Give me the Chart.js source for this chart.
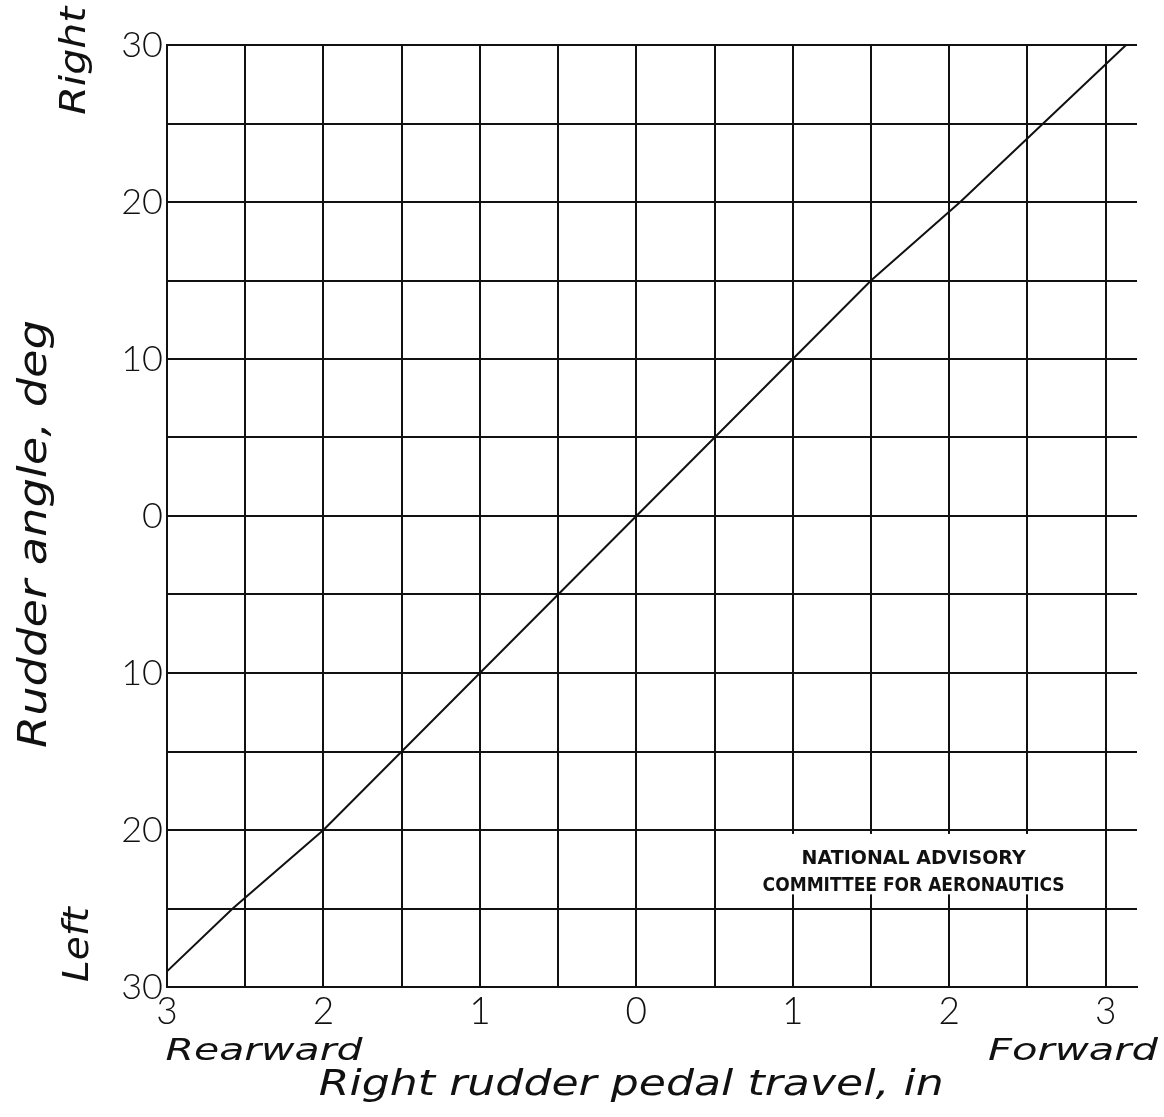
<!DOCTYPE html>
<html>
<head>
<meta charset="utf-8">
<script src="https://cdn.jsdelivr.net/npm/chart.js@4/dist/chart.umd.min.js"></script>
<style>
  html, body { margin: 0; padding: 0; background: #fff; }
  #wrap { width: 1164px; height: 1117px; }
</style>
</head>
<body>
<div id="wrap"><canvas id="c" width="1164" height="1117"></canvas></div>
<script>
// ---- data ----
const pedalTravel = [-3, -2.58, -2, -1.5, -1, -0.5, 0, 0.5, 1, 1.5, 2.07, 2.6, 3.13];
const rudderAngle = [-29, -25, -20, -15, -10, -5, 0, 5, 10, 15, 20, 25, 30];
const xGridValues = [-3, -2.5, -2, -1.5, -1, -0.5, 0, 0.5, 1, 1.5, 2, 2.5, 3];
const xTickLabels = ['3', '2', '1', '0', '1', '2', '3'];      // at -3..3 integers
const yTickLabels = ['30', '20', '10', '0', '10', '20', '30']; // at -30..30 by 10
const xTitle = 'Right rudder pedal travel, in';
const yTitle = 'Rudder angle, deg';
const xEndLabels = ['Rearward', 'Forward'];
const yEndLabels = ['Left', 'Right'];
const noteLines = ['NATIONAL ADVISORY', 'COMMITTEE FOR AERONAUTICS'];

const INK = '#111';
const HAND = "'Lato', 'DejaVu Sans', sans-serif";
const SCRIPT = "'DejaVu Sans', sans-serif";

const points = pedalTravel.map((x, i) => ({ x, y: rudderAngle[i] }));

// draw text stretched horizontally to a target width, centred on (cx, y)
function fitText(ctx, text, cx, y, target) {
  ctx.letterSpacing = '0px';
  const w = ctx.measureText(text).width;
  const sx = target / w;
  ctx.save();
  ctx.translate(cx, y);
  ctx.scale(sx, 1);
  ctx.textAlign = 'center';
  ctx.fillText(text, 0, 0);
  ctx.restore();
}

const extras = {
  id: 'extras',
  afterDraw(chart) {
    const ctx = chart.ctx;
    const xs = chart.scales.x, ys = chart.scales.y;
    const area = chart.chartArea;
    ctx.save();
    // NACA note box (covers grid)
    const bx0 = xs.getPixelForValue(0.72), bx1 = xs.getPixelForValue(2.85);
    const by0 = ys.getPixelForValue(-20.25), by1 = ys.getPixelForValue(-24.1);
    ctx.fillStyle = '#fff';
    ctx.fillRect(bx0, by0, bx1 - bx0, by1 - by0);
    ctx.fillStyle = INK;
    ctx.textAlign = 'center';
    ctx.textBaseline = 'alphabetic';
    ctx.font = "bold 19px 'DejaVu Sans', sans-serif";
    const cx = (bx0 + bx1) / 2 - 2;
    ctx.fillText(noteLines[0], cx, by0 + 30, 250);
    ctx.fillText(noteLines[1], cx, by0 + 57, 302);

    // axis title: x
    ctx.font = "italic 200 36px " + SCRIPT;
    fitText(ctx, xTitle, xs.getPixelForValue(0) - 5, area.bottom + 108, 625);
    // end labels on x
    ctx.font = "italic 200 31px " + SCRIPT;
    fitText(ctx, xEndLabels[0], area.left + 97, area.bottom + 73, 197);
    fitText(ctx, xEndLabels[1], area.right - 64, area.bottom + 73, 170);

    // y title (rotated)
    ctx.font = "italic 200 39px " + SCRIPT;
    ctx.save();
    ctx.translate(46, (area.top + area.bottom) / 2 + 18);
    ctx.rotate(-Math.PI / 2);
    fitText(ctx, yTitle, 0, 0, 428);
    ctx.restore();

    ctx.font = "italic 200 36px " + SCRIPT;
    ctx.save();
    ctx.translate(88, ys.getPixelForValue(-27.3));
    ctx.rotate(-Math.PI / 2);
    fitText(ctx, yEndLabels[0], 0, 0, 75);
    ctx.restore();
    ctx.save();
    ctx.translate(85, ys.getPixelForValue(29.0));
    ctx.rotate(-Math.PI / 2);
    fitText(ctx, yEndLabels[1], 0, 0, 108);
    ctx.restore();
    ctx.restore();
  }
};

new Chart(document.getElementById('c'), {
  type: 'scatter',
  data: {
    datasets: [{
      data: points,
      showLine: true,
      borderColor: INK,
      borderWidth: 2,
      pointRadius: 0,
      tension: 0,
      fill: false
    }]
  },
  options: {
    responsive: false,
    animation: false,
    devicePixelRatio: 1,
    layout: { padding: { top: 45, right: 27, left: 0, bottom: 0 } },
    plugins: { legend: { display: false }, tooltip: { enabled: false }, title: { display: false } },
    scales: {
      x: {
        type: 'linear',
        min: -3,
        max: 3.2,
        afterBuildTicks(scale) { scale.ticks = xGridValues.map(v => ({ value: v })); },
        afterFit(scale) { scale.height = 130; },
        grid: { color: INK, lineWidth: 2, drawTicks: false },
        border: { display: true, color: INK, width: 2 },
        ticks: {
          autoSkip: false,
          maxRotation: 0,
          padding: 3,
          color: INK,
          font: { family: HAND, size: 37, weight: 300 },
          callback(v) {
            if (Math.abs(v - Math.round(v)) > 1e-9) return '';
            return xTickLabels[Math.round(v) + 3];
          }
        }
      },
      y: {
        type: 'linear',
        min: -30,
        max: 30,
        afterBuildTicks(scale) {
          const t = [];
          for (let v = -30; v <= 30; v += 5) t.push({ value: v });
          scale.ticks = t;
        },
        afterFit(scale) { scale.width = 167; },
        grid: { color: INK, lineWidth: 2, drawTicks: false },
        border: { display: true, color: INK, width: 2 },
        ticks: {
          autoSkip: false,
          padding: 4,
          color: INK,
          font: { family: HAND, size: 36, weight: 300 },
          callback(v) {
            if (v % 10 !== 0) return '';
            return yTickLabels[(30 - v) / 10];
          }
        }
      }
    }
  },
  plugins: [extras]
});
</script>
</body>
</html>
